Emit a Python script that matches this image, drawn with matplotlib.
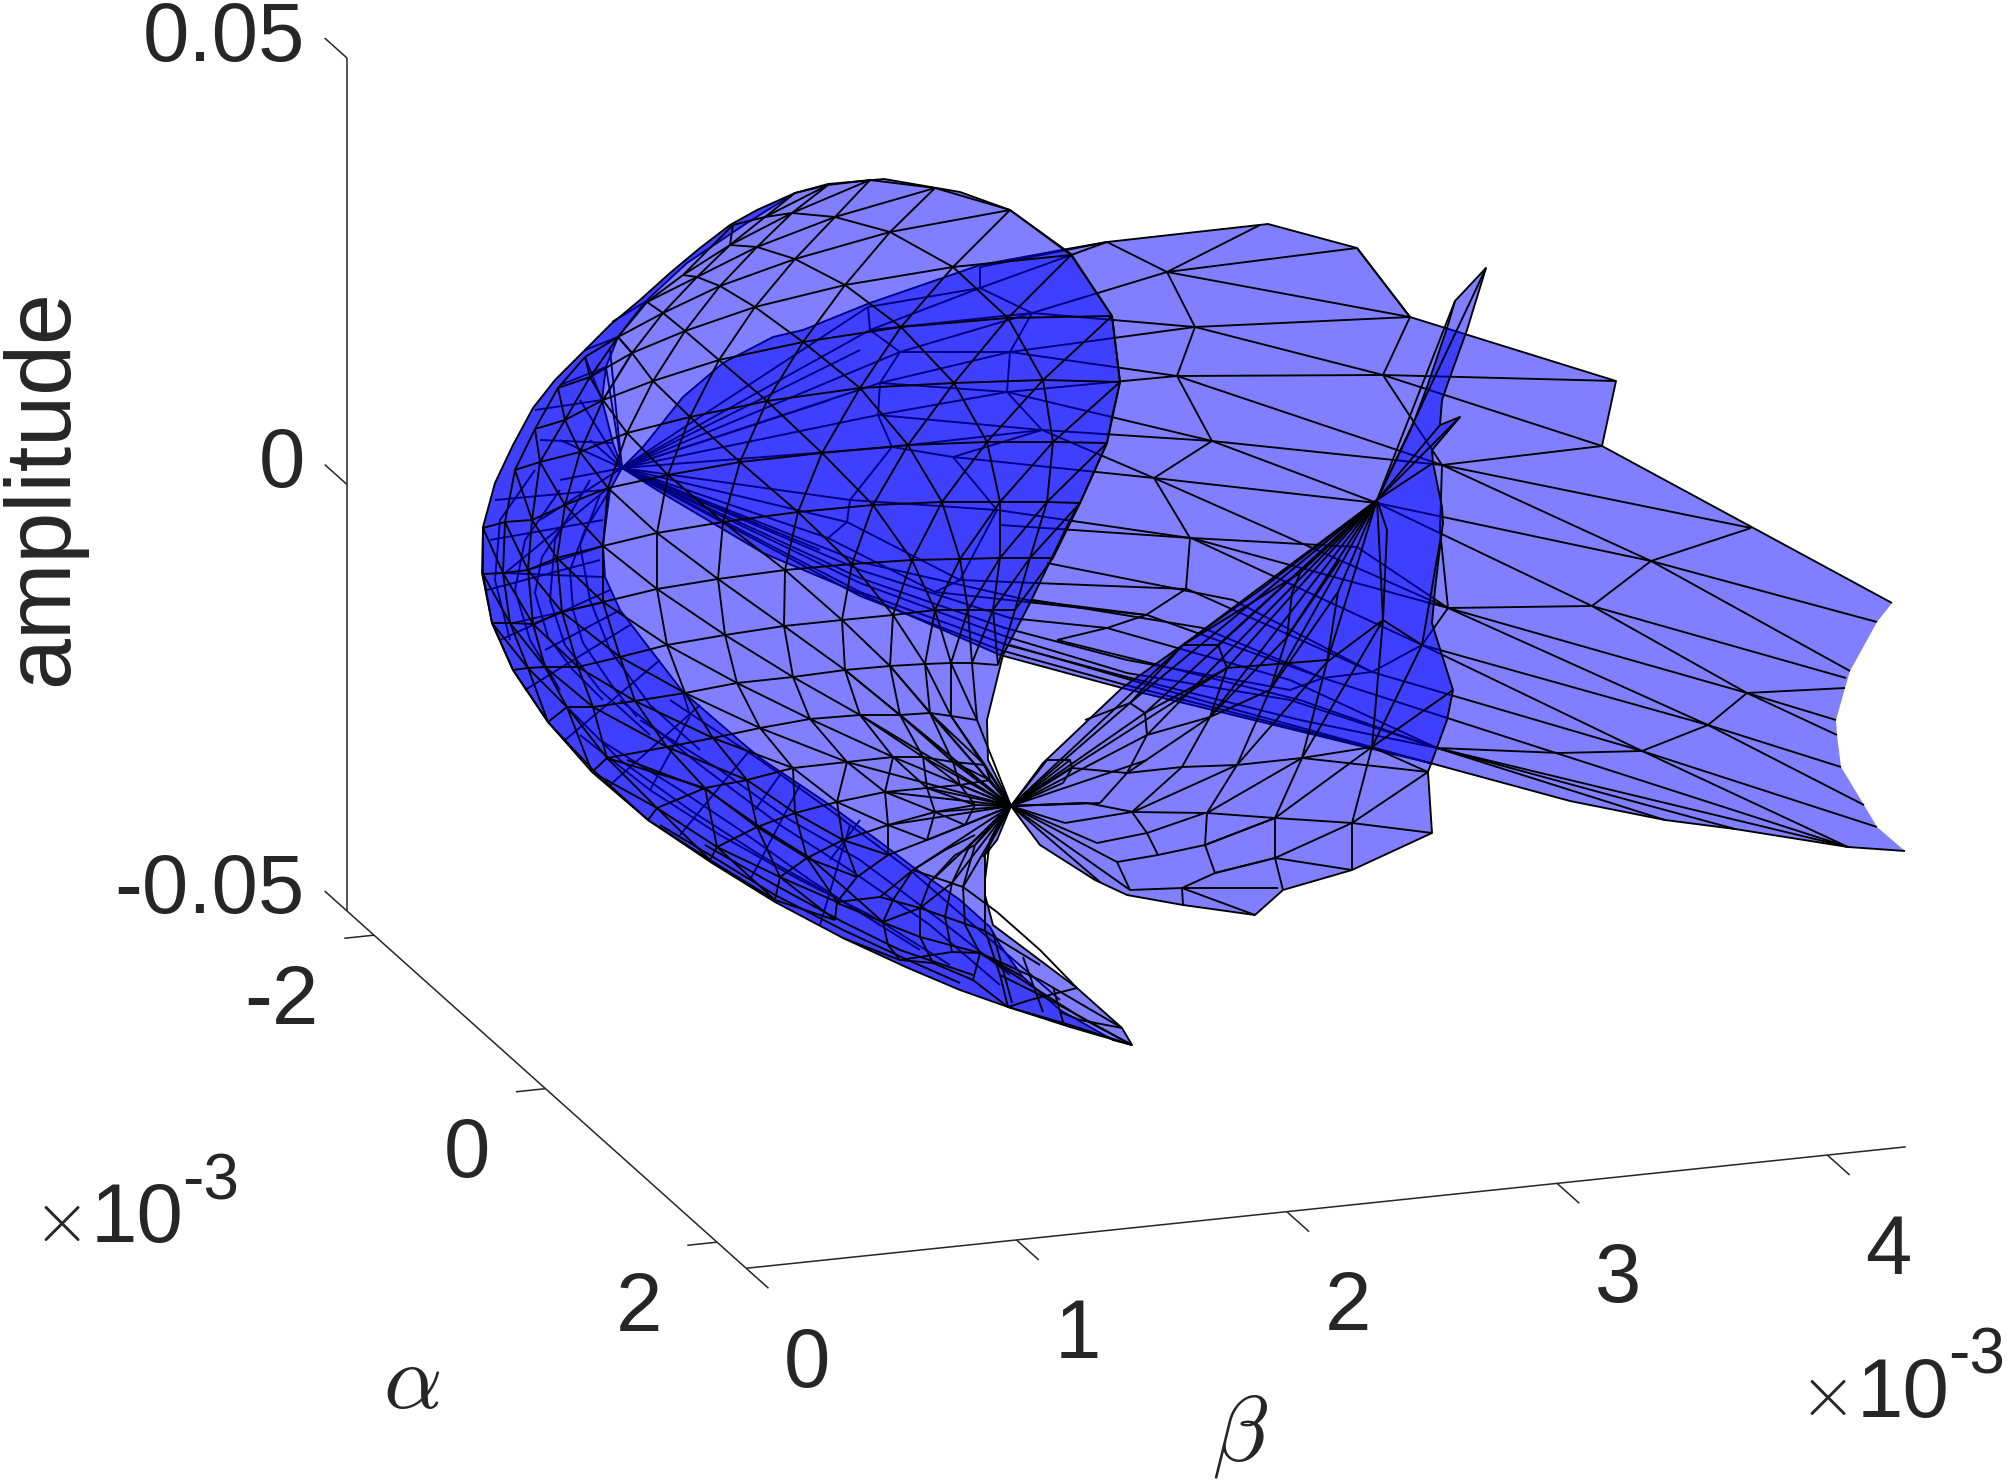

import matplotlib
matplotlib.use("Agg")
import matplotlib.pyplot as plt
from matplotlib.collections import LineCollection
from matplotlib.patches import Polygon

plt.rcParams["font.family"] = ["Liberation Sans", "DejaVu Sans"]
plt.rcParams["mathtext.fontset"] = "cm"

W, H = 2008, 1482
TEXT = "#262626"

alpha_ticks = [-2, 0, 2]
beta_ticks = [0, 1, 2, 3, 4]
amp_ticks = [-0.05, 0, 0.05]
amp_labels = ["-0.05", "0", "0.05"]
alpha_lim = (-2.315, 2.34)
beta_lim = (0, 4.29)

# single fold points of the surface
left_pinch = (622, 468)
low_pinch = (1011, 806)
right_pinch = (1377, 500)

# dome sheet: rows of (x, y), first entry of row_starts is the column of the first point
dome_starts = [0, -1, -1, -1, -2, -2, -2, -2, -3, -3, -3, -3, -2, -1, -1, 0, 1, 2]
dome_rows = [
    [(795, 193)],
    [(733, 225), (765, 217), (828, 185)],
    [(683, 275), (730, 245), (792, 213), (870, 180)],
    [(647, 302), (697, 277), (757, 247), (835, 217), (935, 188)],
    [(585, 357), (618, 337), (663, 313), (720, 286), (795, 259), (890, 232), (1010, 210)],
    [(558, 388), (590, 377), (632, 353), (685, 331), (755, 307), (845, 285), (953, 267), (1071, 255)],
    [(535, 429), (565, 420), (603, 400), (653, 381), (719, 360), (803, 342), (901, 327), (1008, 318), (1112, 316)],
    [(515, 470), (540, 462), (580, 452), (627, 433), (690, 417), (767, 401), (860, 388), (954, 383), (1043, 380), (1120, 382)],
    [(483, 528), (505, 522), (532, 520), (565, 505), (608, 488), (668, 475), (740, 462), (822, 453), (908, 445), (987, 442), (1053, 442), (1107, 443)],
    [(483, 574), (503, 573), (528, 570), (557, 558), (603, 546), (657, 533), (723, 522), (798, 512), (873, 505), (942, 502), (1000, 502), (1047, 502), (1080, 503)],
    [(492, 623), (510, 623), (533, 624), (562, 612), (603, 602), (657, 589), (718, 579), (785, 570), (852, 564), (912, 560), (960, 559), (1000, 558), (1030, 558), (1053, 558)],
    [(513, 670), (528, 668), (545, 667), (578, 667), (620, 657), (667, 645), (725, 635), (784, 626), (842, 620), (893, 615), (935, 610), (968, 610), (993, 610), (1015, 610)],
    [(548, 722), (567, 707), (593, 707), (635, 701), (685, 693), (737, 683), (793, 677), (845, 670), (890, 666), (925, 664), (951, 663), (972, 663), (998, 665)],
    [(592, 772), (607, 758), (667, 747), (713, 738), (760, 728), (810, 719), (860, 715), (900, 715), (930, 713), (951, 716), (977, 720)],
    [(648, 820), (657, 808), (705, 788), (747, 780), (793, 768), (847, 762), (893, 757), (923, 757), (953, 762), (985, 765)],
    [(710, 860), (717, 847), (757, 827), (795, 813), (837, 802), (885, 792), (927, 788), (960, 785), (990, 780)],
    [(775, 900), (780, 877), (807, 858), (843, 840), (888, 825), (935, 812), (975, 805)],
    [(835, 920), (837, 902), (857, 877), (888, 855), (927, 840), (965, 825)],
]
dome_fan = [
    (900, 715), (930, 713), (951, 716), (977, 720), (893, 757), (923, 757), (953, 762), (985, 765),
    (885, 792), (927, 788), (960, 785), (990, 780), (888, 825), (935, 812), (975, 805), (927, 840),
    (965, 825), (975, 845), (970, 845), (952, 883), (930, 882), (913, 870), (963, 887), (983, 857),
    (847, 762), (860, 715), (845, 670), (890, 666),
]
horn_lines = [
    [(933, 963), (920, 937), (920, 908), (930, 882), (955, 855), (975, 845)],
    [(883, 922), (888, 945), (900, 960)],
    [(883, 922), (893, 900), (913, 870), (945, 850), (975, 835)],
    [(973, 980), (980, 953), (965, 925), (963, 887), (975, 845), (995, 820)],
    [(952, 952), (945, 917), (952, 883), (970, 845), (1000, 815)],
    [(1008, 1007), (1000, 975), (985, 930), (985, 880), (990, 840), (1005, 812)],
    [(880, 897), (920, 908), (983, 930), (1040, 965)],
    [(882, 922), (920, 937), (980, 953), (1040, 980), (1122, 1028)],
    [(843, 938), (900, 960), (933, 963), (973, 980), (1008, 1007), (1070, 1025), (1132, 1045)],
    [(913, 870), (963, 887), (997, 912), (1040, 950), (1077, 988)],
    [(835, 902), (883, 922), (920, 908), (952, 883)],
    [(837, 902), (880, 897), (913, 870)],
    [(900, 960), (952, 952), (980, 953), (1023, 977)],
    [(1077, 988), (1030, 1000), (1008, 1007)],
    [(1122, 1028), (1080, 1020), (1060, 1012)],
    [(993, 933), (1012, 1003)], [(1023, 957), (1043, 1012)], [(1053, 987), (1063, 1022)],
    [(980, 953), (1030, 985), (1085, 1020), (1132, 1045)],
    [(1000, 975), (1050, 1000), (1132, 1045)],
    [(660, 825), (710, 855), (775, 895), (843, 930), (908, 960), (960, 983)],
    [(627, 760), (707, 790), (760, 827), (810, 858), (847, 890), (883, 922)],
    [(705, 845), (775, 885), (843, 922), (900, 950), (973, 975)],
]
dome_outline = [
    (795, 193), (828, 184), (884, 179), (960, 192), (1010, 210), (1071, 254), (1112, 316), (1117, 357),
    (1120, 382), (1112, 417), (1107, 443), (1080, 503), (1070, 520), (1030, 603), (1003, 655), (987, 720),
    (988, 760), (1011, 806), (997, 840), (985, 855), (985, 895), (993, 925), (1077, 988), (1122, 1028),
    (1132, 1045), (1070, 1027), (1008, 1007), (960, 990), (908, 968), (843, 938), (775, 902), (712, 863),
    (648, 820), (593, 770), (548, 722), (513, 670), (492, 623), (482, 573), (483, 527), (495, 483),
    (513, 445), (533, 408), (555, 380), (580, 355), (610, 325), (640, 300), (670, 273), (700, 248),
    (730, 225), (757, 210),
]

# fold sheet behind the dome, left crescent and lower band
fold_outline = [
    (795, 193), (757, 210), (730, 225), (700, 248), (670, 273), (640, 300), (610, 325), (580, 355),
    (555, 380), (533, 408), (513, 445), (495, 483), (483, 527), (482, 573), (492, 623), (513, 670),
    (548, 722), (593, 770), (648, 820), (712, 863), (775, 902), (843, 938), (908, 968), (960, 990),
    (1008, 1007), (1070, 1027), (1132, 1045), (1113, 1040), (1060, 1010), (1023, 977), (1000, 945),
    (990, 927), (960, 900), (913, 867), (880, 842), (827, 803), (763, 760), (747, 747), (683, 692),
    (653, 653), (620, 610), (605, 577), (603, 545), (610, 490), (622, 468), (613, 443), (602, 400),
    (606, 367), (618, 337), (645, 302), (687, 263), (747, 223),
]
fold_lines = [
    [(610, 490), (585, 530), (570, 570), (573, 610), (583, 643), (613, 687), (637, 717)],
    [(573, 510), (542, 557), (535, 593), (548, 637), (573, 670), (603, 700)],
    [(600, 495), (580, 545), (590, 600), (610, 650), (650, 705), (700, 750)],
    [(590, 480), (555, 540), (550, 600), (565, 645), (600, 690), (650, 735)],
    [(560, 490), (525, 540), (515, 590), (530, 640), (560, 690)],
    [(535, 470), (500, 520), (495, 580), (510, 640)],
    [(608, 488), (505, 573)], [(603, 546), (528, 570)], [(603, 577), (503, 573)], [(605, 602), (513, 623)],
    [(620, 610), (545, 650)], [(622, 468), (540, 520)], [(622, 468), (560, 480)], [(622, 468), (590, 440)],
    [(622, 468), (606, 367)], [(622, 468), (580, 400)], [(622, 468), (560, 440)], [(622, 468), (610, 350)],
    [(600, 740), (680, 790), (740, 830), (810, 880), (880, 925)],
    [(640, 720), (720, 770), (790, 820), (860, 860), (940, 920), (1010, 975)],
    [(670, 700), (760, 760), (830, 810), (910, 870), (985, 935), (1060, 1000)],
    [(560, 700), (620, 760), (690, 810), (760, 855), (840, 900), (920, 950)],
    [(580, 735), (650, 790), (720, 835), (800, 880), (870, 915), (950, 965)],
    [(620, 700), (700, 765), (780, 825), (850, 870), (930, 925), (1000, 985)],
    [(690, 716), (683, 692)], [(650, 790), (690, 716)], [(755, 810), (780, 775)], [(830, 860), (860, 820)],
    [(603, 400), (632, 353), (618, 337)], [(590, 377), (606, 367)], [(585, 357), (602, 400)],
    [(603, 490), (495, 500)], [(603, 520), (490, 540)], [(600, 560), (487, 590)], [(610, 590), (500, 640)],
    [(630, 625), (525, 690)], [(660, 660), (565, 740)], [(700, 705), (610, 785)], [(750, 750), (680, 835)],
    [(800, 785), (750, 880)], [(850, 825), (820, 925)],
    [(613, 443), (540, 440)], [(602, 400), (535, 410)], [(606, 367), (560, 385)], [(618, 337), (585, 350)], [(645, 302), (612, 322)],
    fold_outline[26:] + fold_outline[:1],
]

# far wing, from the left pinch to the curved far edge
wing_outline = [
    left_pinch, (643, 447), (683, 397), (723, 363), (773, 337), (803, 330), (870, 303), (980, 265), (1067, 249),
    (1107, 242), (1268, 224), (1357, 248), (1410, 317), (1616, 381), (1602, 446), (1892, 603), (1877, 622),
    (1850, 671), (1845, 688), (1836, 720), (1837, 735), (1841, 767), (1864, 805), (1877, 827), (1905, 851),
    (1848, 847), (1735, 829), (1665, 820), (1570, 801), (1430, 763), (1122, 688), (1000, 655), (870, 598),
    (763, 553), (657, 490),
]
wing_edges = [
    [left_pinch, (643, 447), (683, 397), (723, 363), (773, 337), (803, 330), (870, 303), (980, 265), (1067, 249),
     (1107, 242), (1268, 224), (1357, 248), (1410, 317), (1616, 381), (1602, 446), (1892, 603)],
    [left_pinch, (657, 490), (763, 553), (870, 598), (1000, 655), (1122, 688), (1430, 763), (1570, 801),
     (1665, 820), (1735, 829), (1848, 847), (1905, 851)],
]
wing_col0 = [(868, 307), (870, 330), (900, 352), (880, 383), (878, 415), (892, 447), (850, 500), (847, 522), (828, 538)]
wing_col1 = [(980, 267), (980, 288), (1032, 313), (1010, 352), (1007, 392), (1042, 430), (953, 457), (997, 510), (960, 580), (935, 592)]
wing_col2 = [(1107, 242), (1167, 272), (1195, 327), (1177, 376), (1212, 441), (1154, 478), (1190, 538), (1186, 589), (1146, 615), (1107, 628), (1057, 640)]
wing_lines = [
    wing_col0, wing_col1, wing_col2,
    [(1357, 248), (1410, 317), (1383, 375), (1442, 465), (1440, 530), (1448, 608), (1422, 645), (1372, 672), (1323, 678), (1290, 690)],
    [(1592, 606), (1651, 561), (1751, 528)],
    [(1642, 751), (1708, 725), (1747, 693), (1845, 688)],
    [(1437, 748), (1560, 753), (1642, 751)],
    [(1448, 608), (1591, 606)],
    [(1167, 272), (1260, 225)], [(1167, 272), (1357, 248)], [(1167, 272), (1410, 317)],
    [(1195, 327), (1410, 317)], [(1195, 327), (1383, 375)], [(1177, 376), (1383, 375)],
    [(1177, 376), (1442, 465)], [(1212, 441), (1442, 465)], [(1212, 441), (1377, 503)],
    [(1154, 478), (1377, 503)], [(1154, 478), (1448, 608)], [(1191, 538), (1357, 547), (1448, 608)],
    [(1191, 538), (1448, 608)], [(1191, 538), (1422, 645)], [(1187, 589), (1372, 672)], [(1147, 615), (1323, 678)],
    [(1383, 375), (1616, 381)], [(1383, 375), (1602, 446)], [(1442, 465), (1602, 446)],
    [(1442, 465), (1751, 528)], [(1442, 465), (1651, 561)], [(1377, 503), (1651, 561)], [(1377, 503), (1592, 606)],
    [(1651, 561), (1877, 622)], [(1651, 561), (1850, 671)], [(1592, 606), (1846, 678)], [(1592, 606), (1747, 693)],
    [(1448, 608), (1747, 693)], [(1448, 608), (1708, 725)], [(1422, 645), (1708, 725)], [(1422, 645), (1642, 751)],
    [(1372, 672), (1642, 751)], [(1747, 693), (1836, 720)], [(1747, 693), (1837, 735)], [(1708, 725), (1841, 767)],
    [(1708, 725), (1864, 805)], [(1642, 751), (1877, 827)], [(1642, 751), (1848, 847)],
    [(1437, 748), (1848, 847)], [(1437, 748), (1735, 829)], [(1437, 748), (1665, 820)], [(1323, 678), (1848, 847)],
    [(980, 267), (1107, 242)], [(980, 288), (1107, 242)], [(1032, 313), (1167, 272)], [(1032, 313), (1195, 327)],
    [(1010, 352), (1195, 327)], [(1010, 352), (1177, 376)], [(1007, 392), (1177, 376)], [(1007, 392), (1212, 441)],
    [(1042, 430), (1212, 441)], [(1042, 430), (1154, 478)], [(953, 457), (1154, 478)], [(997, 510), (1190, 538)],
    [(1000, 525), (1191, 538)], [(960, 580), (1186, 589)], [(935, 592), (1146, 615)],
    [(868, 307), (980, 288)], [(870, 330), (980, 288)], [(870, 330), (1032, 313)], [(900, 352), (1010, 352)],
    [(900, 352), (1032, 313)], [(880, 383), (1010, 352)], [(880, 383), (1007, 392)], [(878, 415), (1007, 392)],
    [(878, 415), (1042, 430)], [(892, 447), (1042, 430)], [(892, 447), (953, 457)], [(850, 500), (997, 510)],
    [(847, 522), (960, 580)], [(828, 538), (935, 592)],
    [left_pinch, (860, 562), (1027, 600), (1147, 615)],
    [left_pinch, (860, 570), (1010, 618), (1107, 628)],
    [left_pinch, (860, 578), (1005, 628), (1127, 660), (1290, 690)],
    [left_pinch, (860, 583), (1007, 637), (1127, 673), (1290, 700), (1437, 748)],
    [left_pinch, (860, 592), (1007, 645), (1127, 677), (1300, 720), (1437, 748)],
    [(640, 478), (860, 596), (1000, 650), (1122, 684), (1430, 763)],
    [(1057, 640), (1300, 700), (1437, 748)],
    [(1107, 628), (1290, 680), (1437, 748)],
    [(1047, 563), (1233, 600), (1372, 672)],
    [(1033, 600), (1203, 628), (1323, 678)],
    [(1010, 645), (1200, 700), (1430, 763)],
]
wing_fan = wing_col0 + [(700, 500), (760, 525), (820, 550), (860, 350), (830, 400)]

# lower lobe, from the low pinch up to the spike
lobe_outline = [
    low_pinch, (1043, 763), (1122, 688), (1260, 590), right_pinch, (1412, 427), (1427, 387), (1447, 328),
    (1455, 301), (1486, 268), (1467, 330), (1450, 377), (1442, 400), (1440, 425), (1460, 417), (1432, 450),
    (1433, 463), (1442, 507), (1443, 523), (1442, 530), (1435, 590), (1432, 623), (1435, 633), (1453, 690),
    (1447, 720), (1428, 772), (1432, 833), (1352, 870), (1283, 890), (1255, 915), (1183, 905), (1127, 895),
    (1095, 880), (1040, 845), (1025, 825),
]
lobe_lines = [
    [(1047, 760), (1070, 760), (1072, 768), (1063, 783)],
    [(1085, 720), (1130, 703), (1145, 713), (1147, 735), (1127, 773), (1100, 803)],
    [(1183, 645), (1218, 645), (1227, 668), (1210, 717), (1182, 767), (1132, 812), (1147, 833), (1158, 855)],
    [(1300, 573), (1292, 593), (1287, 637), (1270, 690), (1237, 765), (1207, 813), (1205, 845), (1215, 873)],
    [(1338, 592), (1327, 662), (1302, 758), (1275, 818), (1275, 858), (1283, 890)],
    [(1387, 530), (1383, 620), (1372, 747), (1352, 823), (1352, 870)],
    [(1011, 806), (1087, 803), (1133, 812), (1207, 813), (1275, 818), (1352, 823), (1432, 833)],
    [(1072, 768), (1127, 773), (1182, 767), (1237, 765), (1302, 758), (1372, 747), (1428, 772)],
    [(1133, 812), (1237, 765), (1327, 662)],
    [(1275, 818), (1372, 747), (1453, 690)],
    [(1275, 858), (1352, 823), (1428, 772)],
    [(1205, 845), (1275, 818)], [(1207, 813), (1302, 758), (1383, 620)], [(1215, 873), (1275, 858), (1352, 870)],
    [(1065, 823), (1132, 812)], [(1097, 843), (1147, 833), (1205, 813)],
    [(1117, 862), (1158, 855), (1205, 845), (1275, 818)], [(1182, 888), (1215, 873), (1275, 858)],
    [(1182, 888), (1278, 888)], [(1117, 862), (1130, 890)], [(1182, 888), (1183, 905)], [(1255, 915), (1182, 888)],
    [(1130, 890), (1182, 888)], [(1130, 703), (1183, 645), (1300, 573)],
    [(1145, 713), (1227, 668), (1327, 660)], [(1147, 735), (1210, 717), (1270, 690), (1338, 592)],
    [(1127, 773), (1210, 717), (1287, 637), (1340, 560)],
    [(1442, 530), (1422, 645), (1372, 747)], [(1327, 662), (1383, 620), (1422, 645)],
    [(1428, 772), (1302, 758)],
]
lobe_fan_low = [
    (1047, 760), (1070, 760), (1072, 768), (1130, 703), (1145, 713), (1147, 735), (1183, 645), (1227, 668),
    (1100, 803), (1063, 783), (1065, 823), (1097, 843), (1117, 862), (1100, 882), (1085, 803), (1147, 760),
    (1130, 890),
]
lobe_fan_right = [
    (1130, 703), (1218, 645), (1300, 573), (1338, 592), (1287, 637), (1227, 668), (1145, 713), (1147, 735),
    (1210, 717), (1270, 690), (1327, 662), (1183, 645), (1387, 530), (1383, 620), (1486, 268), (1455, 301),
    (1460, 417), (1440, 425), (1433, 463),
]

fig = plt.figure(figsize=(W / 100, H / 100), dpi=100)
ax = fig.add_axes([0, 0, 1, 1])
ax.set_xlim(0, W)
ax.set_ylim(H, 0)
ax.axis("off")


def project(alpha, beta, amp):
    x = 347 + 85.75 * (alpha - alpha_lim[0]) + 270.3 * beta
    y = 911 + 76.75 * (alpha - alpha_lim[0]) - 28.3 * beta - 8530 * (amp + 0.05)
    return x, y


def sheet(outline, lines, z):
    ax.add_patch(Polygon(outline, closed=True, facecolor=(0, 0, 1, 0.5), edgecolor="none", zorder=z))
    ax.add_collection(LineCollection(lines, colors="black", linewidths=1.35, zorder=z + 0.5))


def fan(point, ends):
    return [[point, e] for e in ends]


def grid_lines(rows, starts):
    nodes = {}
    for i, (row, c0) in enumerate(zip(rows, starts)):
        for j, p in enumerate(row):
            nodes[(i, c0 + j)] = p
    lines = []
    for (i, c), p in nodes.items():
        for key in ((i, c + 1), (i + 1, c), (i + 1, c + 1)):
            if key in nodes:
                lines.append([p, nodes[key]])
    return lines


sheet(wing_outline, wing_lines + wing_edges + fan(left_pinch, wing_fan), 1)
sheet(lobe_outline, lobe_lines + fan(low_pinch, lobe_fan_low) + fan(right_pinch, lobe_fan_right)
      + [lobe_outline + lobe_outline[:1]], 2)
sheet(fold_outline, fold_lines, 3)
sheet(dome_outline, grid_lines(dome_rows, dome_starts) + fan(low_pinch, dome_fan) + horn_lines
      + [dome_outline + dome_outline[:1]], 4)

# box edges and ticks
axis_kw = dict(color=TEXT, lw=1.1, zorder=6, solid_capstyle="butt")
ax.plot(*zip(project(alpha_lim[0], 0, -0.05), project(alpha_lim[0], 0, 0.05)), **axis_kw)
ax.plot(*zip(project(alpha_lim[0], 0, -0.05), project(alpha_lim[1], 0, -0.05)), **axis_kw)
ax.plot(*zip(project(alpha_lim[1], beta_lim[0], -0.05), project(alpha_lim[1], beta_lim[1], -0.05)), **axis_kw)
for v in amp_ticks:
    ax.plot(*zip(project(alpha_lim[0], 0, v), project(alpha_lim[0] - 0.26, 0, v)), **axis_kw)
for v in alpha_ticks:
    ax.plot(*zip(project(v, 0, -0.05), project(v, -0.11, -0.05)), **axis_kw)
for v in beta_ticks:
    ax.plot(*zip(project(alpha_lim[1], v, -0.05), project(alpha_lim[1] + 0.26, v, -0.05)), **axis_kw)

# tick labels sit at a fixed offset from their tick
tick_fs = 60
for v, s in zip(amp_ticks, amp_labels):
    x, y = project(alpha_lim[0], 0, v)
    ax.text(x - 42, y - 28, s, ha="right", va="center_baseline", fontsize=tick_fs, color=TEXT)
for v in alpha_ticks:
    x, y = project(v, 0, -0.05)
    ax.text(x - 55, y + 58, str(v), ha="right", va="center_baseline", fontsize=tick_fs, color=TEXT)
for v in beta_ticks:
    x, y = project(alpha_lim[1], v, -0.05)
    ax.text(x + 61, y + 88, str(v), ha="center", va="center_baseline", fontsize=tick_fs, color=TEXT)

ax.text(43, 488, "amplitude", rotation=90, ha="center", va="center", fontsize=66, color=TEXT)
ax.text(412, 1384, r"$\alpha$", ha="center", va="center", fontsize=66, color=TEXT)
ax.text(1240, 1436, r"$\beta$", ha="center", va="center", fontsize=66, color=TEXT)

for x0, y0 in [(57, 1222), (1823, 1397)]:
    ax.text(x0, y0, r"$\times$", ha="center", va="center", fontsize=52, color=TEXT)
    ax.text(x0 + 34, y0 - 2, "10", ha="left", va="center", fontsize=tick_fs, color=TEXT)
    ax.text(x0 + 125, y0 - 40, "-3", ha="left", va="center", fontsize=46, color=TEXT)

fig.savefig("out.png", dpi=100, facecolor="white")
